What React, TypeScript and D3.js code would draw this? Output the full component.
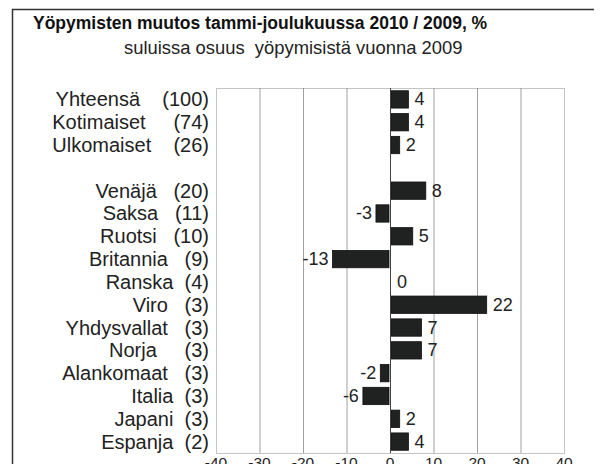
import { useEffect, useRef } from "react";
import * as d3 from "d3";

// non-breaking spaces keep the gaps of the original labels
const sp = (n: number) => "\u00A0".repeat(n);

const categories = [
  `Yhteensä${sp(4)}(100)`,
  `Kotimaiset${sp(5)}(74)`,
  `Ulkomaiset${sp(4)}(26)`,
  "",
  `Venäjä${sp(3)}(20)`,
  `Saksa${sp(3)}(11)`,
  `Ruotsi${sp(3)}(10)`,
  `Britannia${sp(3)}(9)`,
  `Ranska${sp(2)}(4)`,
  `Viro${sp(3)}(3)`,
  `Yhdysvallat${sp(3)}(3)`,
  `Norja${sp(5)}(3)`,
  `Alankomaat${sp(3)}(3)`,
  `Italia${sp(2)}(3)`,
  `Japani${sp(2)}(3)`,
  `Espanja${sp(2)}(2)`,
];
const changes: (number | null)[] = [4, 4, 2, null, 8, -3, 5, -13, 0, 22, 7, 7, -2, -6, 2, 4];
const xTicks = [-40, -30, -20, -10, 0, 10, 20, 30, 40];

const title = "Yöpymisten muutos tammi-joulukuussa 2010 / 2009, %";
const subtitle = `suluissa osuus${sp(2)}yöpymisistä vuonna 2009`;

export default function App() {
  const svgRef = useRef<SVGSVGElement | null>(null);

  useEffect(() => {
    if (!svgRef.current) return;
    const svg = d3.select(svgRef.current);
    svg.selectAll("*").remove();

    const width = 602;
    const height = 472;
    const plot = { left: 216, right: 564, top: 88, bottom: 453 };
    const font = "Arial, 'Liberation Sans', sans-serif";

    svg.append("rect").attr("width", width).attr("height", height).attr("fill", "#fff");

    // frame of the scanned figure
    svg
      .append("path")
      .attr("d", `M12.5,${height} V9.5 H${width}`)
      .attr("fill", "none")
      .attr("stroke", "#333")
      .attr("stroke-width", 1.5);

    svg
      .append("text")
      .attr("x", 33)
      .attr("y", 29)
      .attr("font-family", font)
      .attr("font-weight", "bold")
      .attr("font-size", 17.5)
      .attr("fill", "#111")
      .text(title);

    svg
      .append("text")
      .attr("x", 124)
      .attr("y", 54)
      .attr("font-family", font)
      .attr("font-size", 18.4)
      .attr("fill", "#222")
      .text(subtitle);

    const x = d3.scaleLinear().domain([-40, 40]).range([plot.left, plot.right]);
    const y = d3
      .scaleBand<number>()
      .domain(d3.range(categories.length))
      .range([plot.top, plot.bottom])
      .paddingInner(0.24)
      .paddingOuter(0.12);

    // gridlines
    svg
      .append("g")
      .selectAll("line")
      .data(xTicks.filter((t) => t !== 0 && Math.abs(t) !== 40))
      .join("line")
      .attr("x1", (d) => x(d) + 0.5)
      .attr("x2", (d) => x(d) + 0.5)
      .attr("y1", plot.top)
      .attr("y2", plot.bottom)
      .attr("stroke", "#a0a0a0")
      .attr("stroke-width", 1);

    // dotted plot border
    svg
      .append("rect")
      .attr("x", plot.left + 0.5)
      .attr("y", plot.top + 0.5)
      .attr("width", plot.right - plot.left)
      .attr("height", plot.bottom - plot.top)
      .attr("fill", "none")
      .attr("stroke", "#888")
      .attr("stroke-dasharray", "1,1");

    const rows = categories.map((label, i) => ({ label, i, value: changes[i] }));

    svg
      .append("g")
      .selectAll("rect")
      .data(rows.filter((d) => d.value !== null && d.value !== 0))
      .join("rect")
      .attr("x", (d) => Math.min(x(0), x(d.value as number)) + (d.value! > 0 ? 1 : -1))
      .attr("y", (d) => y(d.i)!)
      .attr("width", (d) => Math.abs(x(d.value as number) - x(0)))
      .attr("height", y.bandwidth())
      .attr("fill", "#1f2220")
      .attr("stroke", "#111")
      .attr("stroke-width", 0.8);

    // zero axis line
    svg
      .append("line")
      .attr("x1", x(0) + 0.5)
      .attr("x2", x(0) + 0.5)
      .attr("y1", plot.top)
      .attr("y2", plot.bottom)
      .attr("stroke", "#444")
      .attr("stroke-width", 1);

    // value labels
    svg
      .append("g")
      .selectAll("text")
      .data(rows.filter((d) => d.value !== null))
      .join("text")
      .attr("x", (d) => (d.value! >= 0 ? x(d.value!) + 7 : x(d.value!) - 5))
      .attr("y", (d) => y(d.i)! + y.bandwidth() / 2 + 6)
      .attr("text-anchor", (d) => (d.value! >= 0 ? "start" : "end"))
      .attr("font-family", font)
      .attr("font-size", 18)
      .attr("fill", "#222")
      .text((d) => String(d.value));

    // category labels
    svg
      .append("g")
      .selectAll("text")
      .data(rows.filter((d) => d.label !== ""))
      .join("text")
      .attr("x", 209)
      .attr("y", (d) => y(d.i)! + y.bandwidth() / 2 + 7)
      .attr("text-anchor", "end")
      .attr("font-family", font)
      .attr("font-size", 20)
      .attr("fill", "#222")
      .text((d) => d.label);

    // x tick labels
    svg
      .append("g")
      .selectAll("text")
      .data(xTicks)
      .join("text")
      .attr("x", (d) => x(d))
      .attr("y", 468)
      .attr("text-anchor", "middle")
      .attr("font-family", font)
      .attr("font-size", 15.5)
      .attr("fill", "#222")
      .text((d) => String(d));
  }, []);

  return (
    <div style={{ margin: -8, width: 602, height: 472, overflow: "hidden" }}>
      <svg ref={svgRef} width={602} height={472} style={{ display: "block" }} />
    </div>
  );
}
